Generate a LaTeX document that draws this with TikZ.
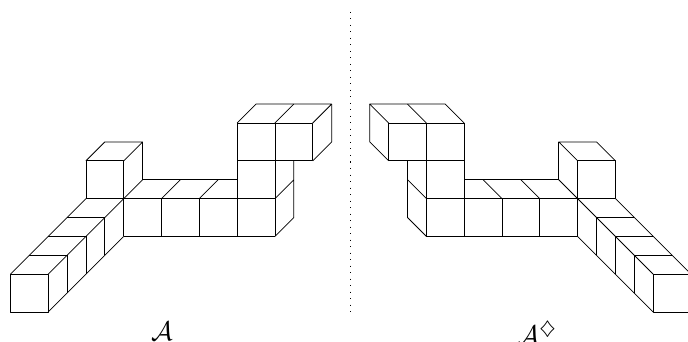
\documentclass[tikz,border=0pt]{standalone}
\usepackage{amssymb}
\tikzset{
  px/.style={x=1pt,y=-1pt},
  edges/.style={draw=black,line width=0.75pt,line join=round},
  lab/.style={inner sep=0pt,anchor=base,scale=2.7},
  sep/.style={draw=black,line width=1pt,dash pattern=on 1pt off 5.5pt}
}
\newcommand{\blocks}{%
  % front arm
  \draw[edges] (0,0) rectangle (2,2);
  \draw[edges] (0,2) -- (4,6);
  \draw[edges] (2,2) -- (7,7);
  \draw[edges] (2,0) -- (6,4);
  \draw[edges] (1,3) -- (3,3) (2,4) -- (4,4) (3,5) -- (5,5);
  \draw[edges] (3,1) -- (3,3) (4,2) -- (4,4) (5,3) -- (5,5);
  % raised cube
  \draw[edges] (4,6) rectangle (6,8);
  \draw[edges] (4,8) -- (5,9) -- (7,9) -- (6,8);
  \draw[edges] (7,9) -- (7,7);
  % middle row
  \draw[edges] (6,4) -- (14,4) (4,6) -- (14,6) (7,7) -- (12,7);
  \draw[edges] (6,4) -- (6,6) (8,4) -- (8,6) (10,4) -- (10,6) (12,4) -- (12,10) (14,4) -- (14,10);
  \draw[edges] (8,6) -- (9,7) (10,6) -- (11,7);
  \draw[edges] (14,4) -- (15,5) -- (15,8) (14,6) -- (15,7);
  % overhang
  \draw[edges] (12,8) -- (16,8) -- (16,10) -- (12,10);
  \draw[edges] (12,10) -- (13,11) -- (17,11) -- (16,10);
  \draw[edges] (14,10) -- (15,11);
  \draw[edges] (17,11) -- (17,9) -- (16,8);
}
\begin{document}
\begin{tikzpicture}[px]
  \useasboundingbox (0,0) rectangle (688,342);
  \clip (0,0) rectangle (688,342);
  \fill[white] (0,0) rectangle (688,342);
  \begin{scope}[shift={(10.33,312)},x=18.9pt,y=18.9pt]
    \blocks
  \end{scope}
  \begin{scope}[shift={(691,312)},x=-18.9pt,y=18.9pt]
    \blocks
  \end{scope}
  \coordinate (top) at (350.7,12);
  \coordinate (bot) at (350.7,313);
  \draw[sep] (top) -- (bot);
  \node[lab] (a) at (162,340.5) {$\mathcal{A}$};
  \node[lab,anchor=base west] (b) at (517,344) {$\mathcal{A}^{\diamondsuit}$};
\end{tikzpicture}
\end{document}
